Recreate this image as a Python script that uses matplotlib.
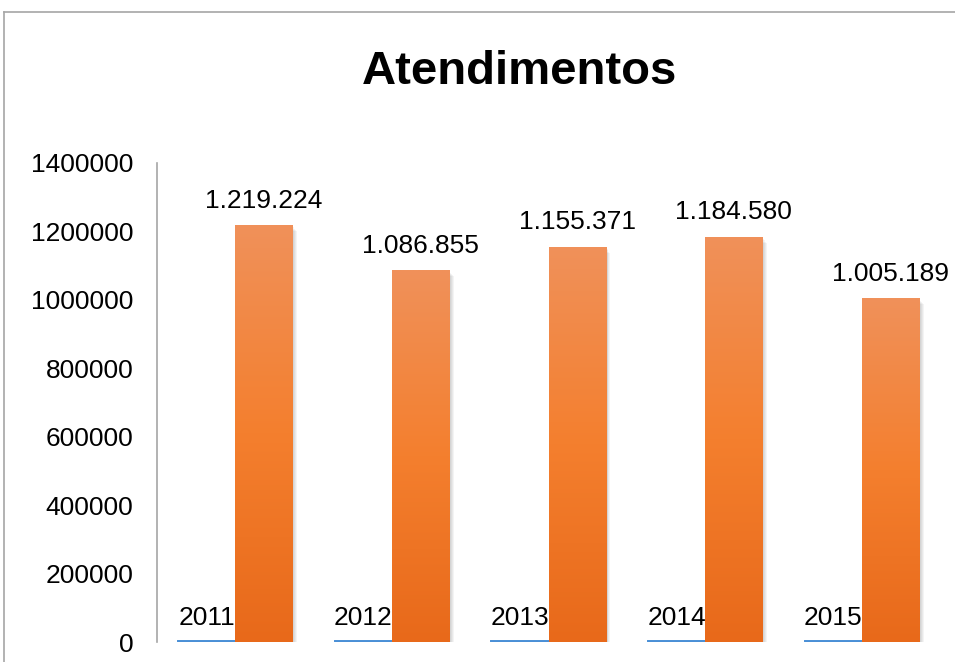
import numpy as np
import matplotlib
matplotlib.use('Agg')
import matplotlib.pyplot as plt
from matplotlib.colors import LinearSegmentedColormap
from matplotlib.patches import Rectangle
from matplotlib.lines import Line2D

plt.rcParams['font.family'] = ['Liberation Sans', 'DejaVu Sans']

anos = [2011, 2012, 2013, 2014, 2015]
atendimentos = [1219224, 1086855, 1155371, 1184580, 1005189]
rotulos = ['1.219.224', '1.086.855', '1.155.371', '1.184.580', '1.005.189']

fig = plt.figure(figsize=(9.55, 6.62), dpi=100)

# outer chart frame (Excel style, cropped at right and bottom)
fig.add_artist(Line2D([4 / 955, 4 / 955], [0, 1 - 12 / 662], color='#a6a6a6', lw=1.2))
fig.add_artist(Line2D([4 / 955, 1], [1 - 12 / 662, 1 - 12 / 662], color='#a6a6a6', lw=1.2))

ax = fig.add_axes([157 / 955, 20 / 662, 783 / 955, 479 / 662])

x = np.arange(len(anos))
w = 0.365
cmap = LinearSegmentedColormap.from_list('laranja', ['#e8691a', '#f47f2e', '#f0915a'])
grad = np.linspace(0, 1, 256).reshape(-1, 1)

# blue series (years), almost flat at this scale
ax.bar(x - w / 2, anos, w, color='#4a8fd6', edgecolor='#4a8fd6', lw=1.4, zorder=3)
for xi, a in zip(x, anos):
    ax.text(xi - w / 2, 36000, str(a), ha='center', va='bottom', fontsize=19, zorder=5)

# orange series with soft shadow and vertical gradient
for xi, v, lab in zip(x, atendimentos, rotulos):
    left = xi
    for k in range(5):
        off = 0.006 * (k + 1)
        ax.add_patch(Rectangle((left + off, -8000 + k * 1500), w, v + 4000 - k * 5000,
                               facecolor='black', alpha=0.045, lw=0, zorder=2))
    bar = ax.bar(xi + w / 2, v, w, color='#f08030', zorder=3)[0]
    im = ax.imshow(grad, cmap=cmap, aspect='auto', origin='lower',
                   extent=(left, left + w, 0, v), zorder=4)
    im.set_clip_path(bar)
    ax.text(xi + w / 2, v + 36000, lab, ha='center', va='bottom', fontsize=19, zorder=5)

ax.set_xlim(-0.5, len(anos) - 0.5)
ax.set_ylim(0, 1400000)
ax.set_yticks(np.arange(0, 1400001, 200000))
ax.set_yticklabels([str(t) for t in range(0, 1400001, 200000)], fontsize=19)
ax.set_xticks([])
ax.tick_params(axis='y', length=0, pad=17)
for s in ['top', 'right', 'bottom']:
    ax.spines[s].set_visible(False)
ax.spines['left'].set_color('#a6a6a6')
ax.spines['left'].set_linewidth(1.2)

fig.text(520 / 955, 1 - 72 / 662, 'Atendimentos', ha='center', va='center',
         fontsize=34, fontweight='bold')

fig.savefig('out.png', dpi=100)
